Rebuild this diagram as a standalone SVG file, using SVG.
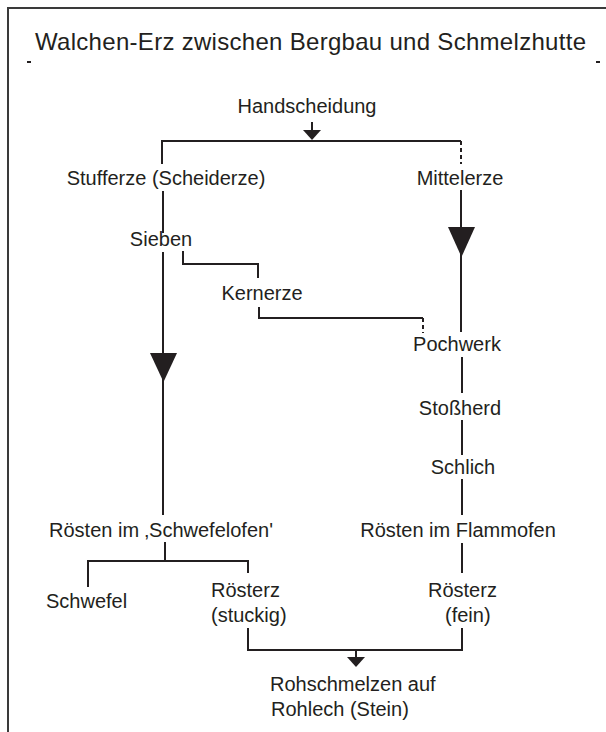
<svg xmlns="http://www.w3.org/2000/svg" width="606" height="732" viewBox="0 0 606 732">
<style>
text { font-family: "Liberation Sans", Arial, sans-serif; font-size: 20px; fill: #231f20; }
.c { text-anchor: middle; }
.ln { fill: none; stroke: #231f20; stroke-width: 2; }
.dl { fill: none; stroke: #231f20; stroke-width: 2; stroke-dasharray: 4 3; }
.ah { fill: #231f20; stroke: none; }
.frame { fill: none; stroke: #3a3a3a; stroke-width: 2; }
</style>
<rect width="606" height="732" fill="#ffffff"/>
<path class="frame" d="M8,732 V8 H606"/>
<g id="title">
<text x="35" y="50" style="font-size:24px" textLength="551" lengthAdjust="spacing">Walchen-Erz zwischen Bergbau und Schmelzhutte</text>
<path d="M27,62 h4 M596,62 h4" stroke="#231f20" stroke-width="2"/>
</g>
<g id="connectors">
<path class="ln" d="M312,122 V131"/>
<polygon class="ah" points="303,130 321,130 312,140"/>
<path class="ln" d="M162,164 V141 H461"/>
<path class="dl" d="M461,141 V164"/>
<path class="ln" d="M163,191 V233"/>
<path class="ln" d="M163,252 V515"/>
<polygon class="ah" points="150,353 177,353 163.5,382"/>
<path class="ln" d="M183,251 V264 H258 V278"/>
<path class="ln" d="M259,307 V318 H423"/>
<path class="dl" d="M423,318 V333"/>
<path class="ln" d="M461,190 V332"/>
<polygon class="ah" points="448,227 475,227 461.5,257"/>
<path class="ln" d="M462,357 V393"/>
<path class="ln" d="M462,420 V455"/>
<path class="ln" d="M462,479 V515"/>
<path class="ln" d="M165,542 V561 M88,587 V561 H248 V573"/>
<path class="ln" d="M462,543 V573"/>
<path class="ln" d="M248,628 V650 H462 V628"/>
<path class="ln" d="M356,650 V658"/>
<polygon class="ah" points="347,657 365,657 356,667"/>
</g>
<g id="n-handscheidung"><text class="c" x="307" y="113">Handscheidung</text></g>
<g id="n-stufferze"><text class="c" x="166" y="185">Stufferze (Scheiderze)</text></g>
<g id="n-mittelerze"><text class="c" x="460" y="185">Mittelerze</text></g>
<g id="n-sieben"><text class="c" x="161" y="246">Sieben</text></g>
<g id="n-kernerze"><text class="c" x="262" y="300">Kernerze</text></g>
<g id="n-pochwerk"><text class="c" x="457" y="351">Pochwerk</text></g>
<g id="n-stossherd"><text class="c" x="460" y="415">Stoßherd</text></g>
<g id="n-schlich"><text class="c" x="463" y="474">Schlich</text></g>
<g id="n-roesten-schwefelofen"><text class="c" x="161" y="537">Rösten im ‚Schwefelofen'</text></g>
<g id="n-roesten-flammofen"><text class="c" x="458" y="537">Rösten im Flammofen</text></g>
<g id="n-schwefel"><text x="46" y="608">Schwefel</text></g>
<g id="n-roesterz-stueckig"><text x="211" y="597">Rösterz</text><text x="211" y="622">(stuckig)</text></g>
<g id="n-roesterz-fein"><text x="428" y="597">Rösterz</text><text x="445" y="622">(fein)</text></g>
<g id="n-rohschmelzen"><text x="270" y="691">Rohschmelzen auf</text><text x="271" y="716">Rohlech (Stein)</text></g>
</svg>
